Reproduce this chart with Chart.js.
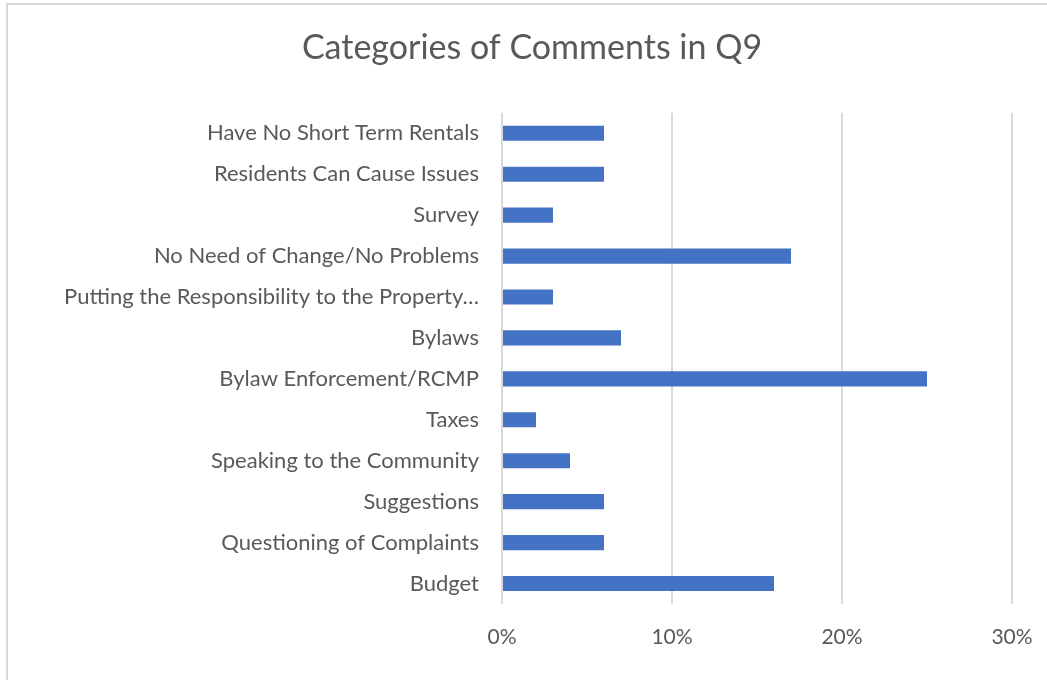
<!DOCTYPE html>
<html>
<head>
<meta charset="utf-8">
<script src="https://cdn.jsdelivr.net/npm/chart.js@4.4.1/dist/chart.umd.min.js"></script>
<style>
  html, body { margin: 0; padding: 0; background: #fff; overflow: hidden; }
  #frame { position: absolute; left: 6px; top: 3px; width: 1100px; height: 700px; border: 2px solid #d9d9d9; }
  #wrap { position: absolute; left: 0; top: 0; width: 1047px; height: 680px; }
</style>
</head>
<body>
<div id="frame"></div>
<div id="wrap"><canvas id="bar-chart" width="1047" height="680"></canvas></div>
<script>
const categories = [
    "Have No Short Term Rentals",
    "Residents Can Cause Issues",
    "Survey",
    "No Need of Change/No Problems",
    "Putting the Responsibility to the Property\u2026",
    "Bylaws",
    "Bylaw Enforcement/RCMP",
    "Taxes",
    "Speaking to the Community",
    "Suggestions",
    "Questioning of Complaints",
    "Budget"
]
// share of comments, in percent
const shares = [6, 6, 3, 17, 3, 7, 25, 2, 4, 6, 6, 16]
const xTicks = [0, 10, 20, 30]

const textColor = "#595959"
const gridColor = "#d9d9d9"
const fontFamily = "Lato, 'Liberation Sans', sans-serif"

new Chart(document.getElementById("bar-chart"), {
    type: "bar",
    data: {
        labels: categories,
        datasets: [{
            data: shares,
            backgroundColor: "#4472c4",
            barPercentage: 0.37,
            categoryPercentage: 1
        }]
    },
    options: {
        indexAxis: "y",
        responsive: false,
        animation: false,
        layout: { padding: { top: 28, right: 35, bottom: 0, left: 52 } },
        plugins: {
            legend: { display: false },
            tooltip: { enabled: false },
            title: {
                display: true,
                text: "Categories of Comments in Q9",
                color: textColor,
                font: { family: fontFamily, size: 34, weight: "normal" },
                padding: { top: 0, bottom: 44 }
            }
        },
        scales: {
            x: {
                min: xTicks[0],
                max: xTicks[xTicks.length - 1],
                afterBuildTicks: function(scale){
                    scale.ticks = xTicks.map(v => ({ value: v }))
                },
                afterFit: function(scale){
                    scale.height = 76
                    // let the layout padding alone decide the plot's right edge
                    scale.paddingLeft = 0
                    scale.paddingRight = 0
                },
                border: { display: false },
                grid: { color: gridColor, lineWidth: 2, drawTicks: false },
                ticks: {
                    color: textColor,
                    padding: 21,
                    font: { family: fontFamily, size: 21 },
                    callback: v => v + "%"
                }
            },
            y: {
                afterFit: function(scale){ scale.width = 450 },
                border: { display: false },
                grid: { display: false, drawTicks: false },
                ticks: {
                    color: textColor,
                    padding: 23,
                    autoSkip: false,
                    font: { family: fontFamily, size: 22 }
                }
            }
        }
    }
})
</script>
</body>
</html>
